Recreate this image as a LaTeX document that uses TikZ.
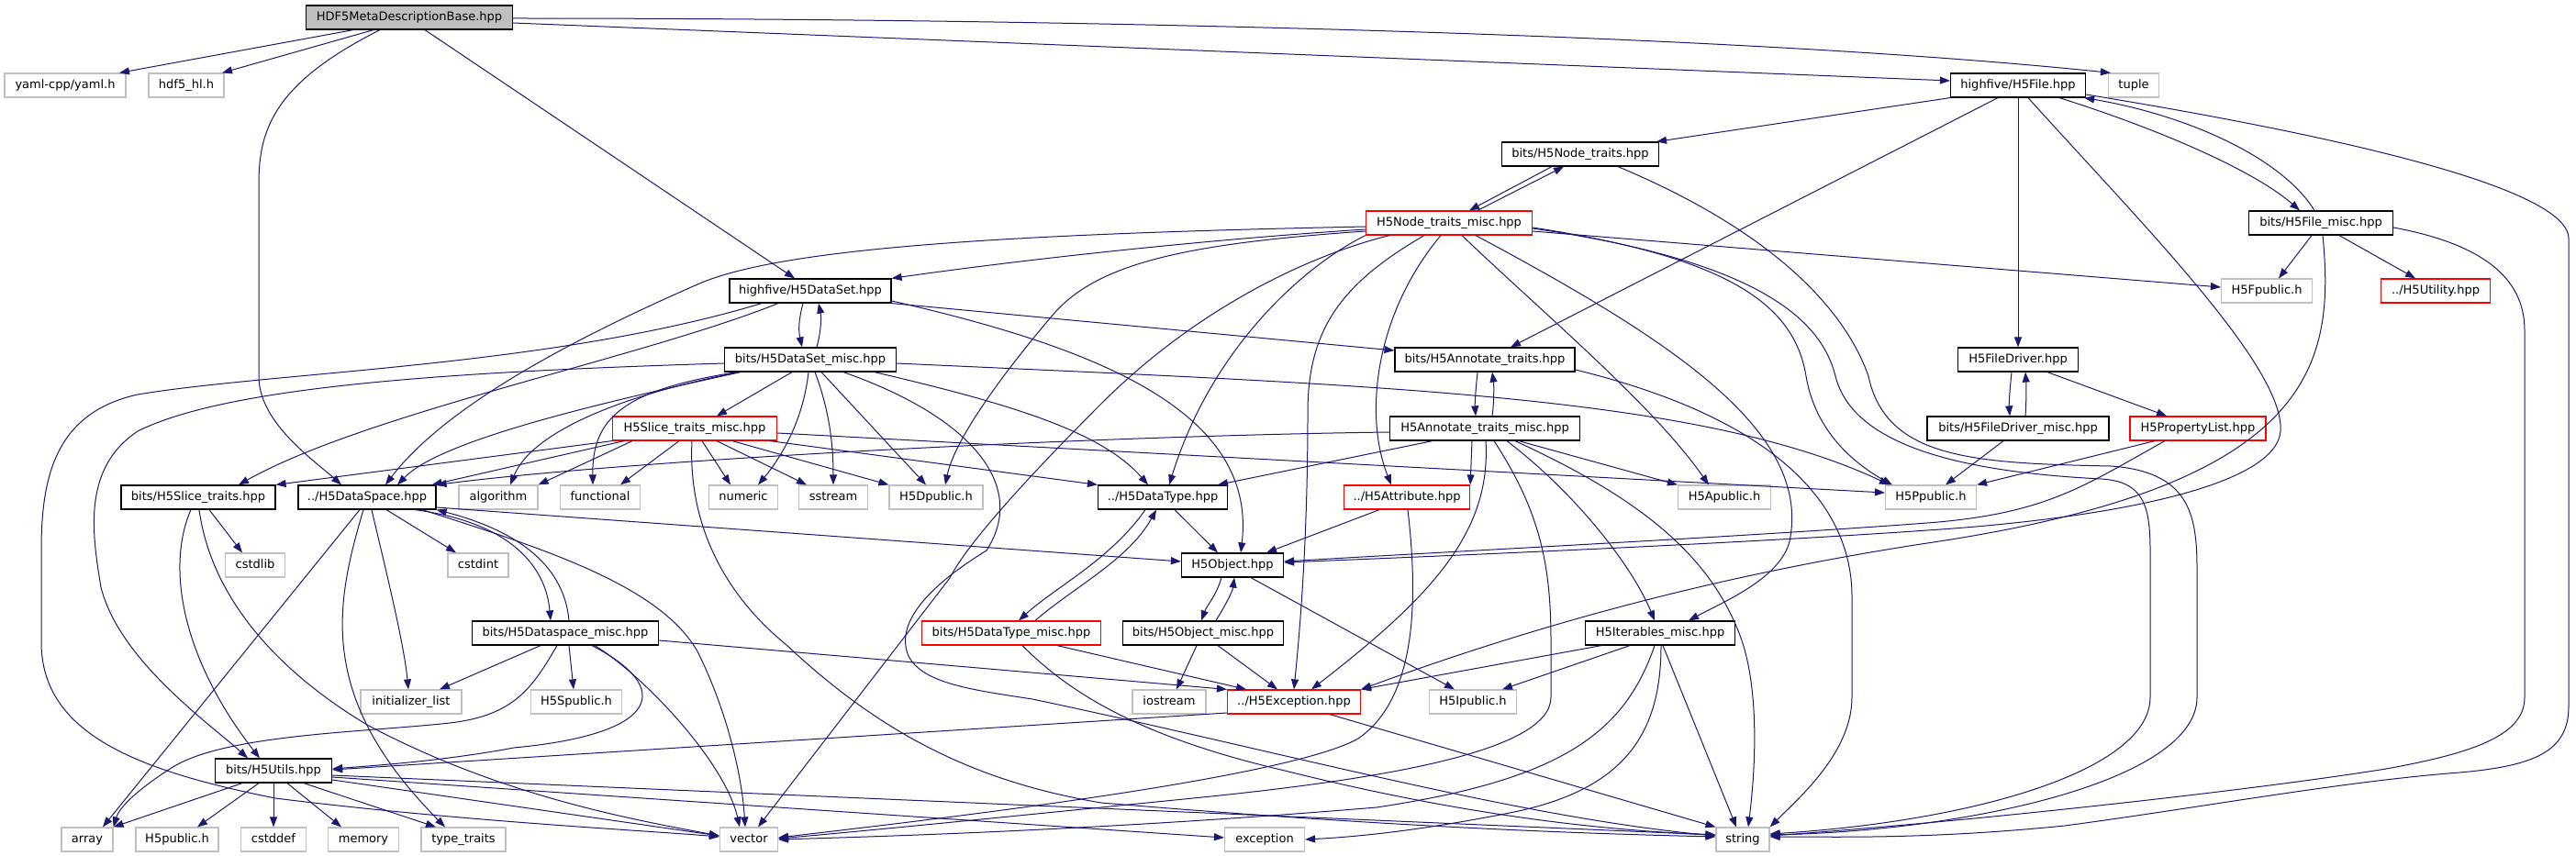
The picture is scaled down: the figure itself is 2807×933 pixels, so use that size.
\documentclass[tikz,border=0pt]{standalone}
\usepackage{fontspec}
\newfontfamily\djv{DejaVu Sans}
\usetikzlibrary{arrows.meta}
\definecolor{edgec}{HTML}{191970}
\definecolor{extc}{HTML}{BFBFBF}
\definecolor{rootc}{HTML}{BFBFBF}
\begin{document}
\begin{tikzpicture}[x=1pt,y=-1pt,
 box/.style={draw=black,line width=1.2pt,fill=white,minimum height=26pt,inner sep=0pt,text height=9.5pt,text depth=2.3pt,font=\djv\fontsize{13pt}{15pt}\selectfont},
 ext/.style={box,draw=extc},
 trunc/.style={box,draw=red},
 rootn/.style={box,fill=rootc},
 conn/.style={draw=edgec,line width=1pt,-{Triangle[length=11pt,width=8pt]}}]
\fill[white] (0,0) rectangle (2807,933);
\useasboundingbox (0,0) rectangle (2807,933);
% ---------- nodes ----------
\node[rootn,minimum width=225pt] (root) at (446,19) {HDF5MetaDescriptionBase.hpp};
\node[ext,minimum width=132pt] (yaml) at (71,93) {yaml-cpp/yaml.h};
\node[ext,minimum width=82pt] (hdfhl) at (203,93) {hdf5\_hl.h};
\node[box,minimum width=147pt] (file) at (2199,93) {highfive/H5File.hpp};
\node[ext,minimum width=55pt] (tuple) at (2325,93) {tuple};
\node[box,minimum width=171pt] (nodetr) at (1722,168) {bits/H5Node\_traits.hpp};
\node[trunc,minimum width=181pt] (ntm) at (1579,243) {H5Node\_traits\_misc.hpp};
\node[box,minimum width=157pt] (filemisc) at (2529,243) {bits/H5File\_misc.hpp};
\node[box,minimum width=176pt] (dataset) at (883,317) {highfive/H5DataSet.hpp};
\node[ext,minimum width=99pt] (fpub) at (2470,317) {H5Fpublic.h};
\node[trunc,minimum width=119pt] (util) at (2654,317) {../H5Utility.hpp};
\node[box,minimum width=187pt] (dsmisc) at (883,392) {bits/H5DataSet\_misc.hpp};
\node[box,minimum width=196pt] (annot) at (1618,392) {bits/H5Annotate\_traits.hpp};
\node[box,minimum width=131pt] (fdriver) at (2199,392) {H5FileDriver.hpp};
\node[trunc,minimum width=179pt] (slicemisc) at (757,467) {H5Slice\_traits\_misc.hpp};
\node[box,minimum width=207pt] (atm) at (1618,467) {H5Annotate\_traits\_misc.hpp};
\node[box,minimum width=198pt] (fdmisc) at (2199,467) {bits/H5FileDriver\_misc.hpp};
\node[trunc,minimum width=148pt] (plist) at (2395,467) {H5PropertyList.hpp};
\node[box,minimum width=168pt] (slicetr) at (216,542) {bits/H5Slice\_traits.hpp};
\node[box,minimum width=150pt] (dspace) at (400,542) {../H5DataSpace.hpp};
\node[ext,minimum width=86pt] (algorithm) at (543,542) {algorithm};
\node[ext,minimum width=87pt] (functional) at (654,542) {functional};
\node[ext,minimum width=75pt] (numeric) at (810,542) {numeric};
\node[ext,minimum width=75pt] (sstream) at (908,542) {sstream};
\node[ext,minimum width=102pt] (dpub) at (1020,542) {H5Dpublic.h};
\node[box,minimum width=141pt] (dtype) at (1267,542) {../H5DataType.hpp};
\node[trunc,minimum width=137pt] (attr) at (1533,542) {../H5Attribute.hpp};
\node[ext,minimum width=101pt] (apub) at (1879,542) {H5Apublic.h};
\node[ext,minimum width=99pt] (ppub) at (2104,542) {H5Ppublic.h};
\node[ext,minimum width=65pt] (cstdlib) at (278,616) {cstdlib};
\node[ext,minimum width=66pt] (cstdint) at (521,616) {cstdint};
\node[box,minimum width=111pt] (object) at (1343,616) {H5Object.hpp};
\node[box,minimum width=203pt] (spmisc) at (616,690) {bits/H5Dataspace\_misc.hpp};
\node[trunc,minimum width=195pt] (dtmisc) at (1102,690) {bits/H5DataType\_misc.hpp};
\node[box,minimum width=175pt] (objmisc) at (1311,690) {bits/H5Object\_misc.hpp};
\node[box,minimum width=163pt] (iter) at (1809,690) {H5Iterables\_misc.hpp};
\node[ext,minimum width=110pt] (initl) at (448,765) {initializer\_list};
\node[ext,minimum width=99pt] (spub) at (628,765) {H5Spublic.h};
\node[ext,minimum width=80pt] (iostream) at (1274,765) {iostream};
\node[trunc,minimum width=145pt] (exc) at (1410,765) {../H5Exception.hpp};
\node[ext,minimum width=95pt] (ipub) at (1605,765) {H5Ipublic.h};
\node[box,minimum width=127pt] (utils) at (298,840) {bits/H5Utils.hpp};
\node[ext,minimum width=56pt] (array) at (95,915) {array};
\node[ext,minimum width=90pt] (h5pub) at (193,915) {H5public.h};
\node[ext,minimum width=71pt] (cstddef) at (298,915) {cstddef};
\node[ext,minimum width=77pt] (memory) at (396,915) {memory};
\node[ext,minimum width=92pt] (typetr) at (505,915) {type\_traits};
\node[ext,minimum width=63pt] (vector) at (816,915) {vector};
\node[ext,minimum width=87pt] (exception) at (1378,915) {exception};
\node[ext,minimum width=58pt] (string) at (1899,915) {string};
% ---------- edges ----------
% root
\draw[conn] ([xshift=-61pt]root.south) -- ([xshift=59pt]yaml.north);
\draw[conn] ([xshift=-39pt]root.south) -- ([xshift=39pt]hdfhl.north);
\draw[conn] ([xshift=-32pt]root.south) .. controls (300,90) and (282,140) .. (282,200) -- (282,410) .. controls (282,460) and (340,500) .. ([xshift=-28pt]dspace.north);
\draw[conn] ([xshift=17pt]root.south) -- ([xshift=-17pt]dataset.north);
\draw[conn] ([yshift=-1pt]root.east) .. controls (1200,20) and (1900,38) .. ([xshift=3pt]tuple.north west);
\draw[conn] ([yshift=-6pt]root.east) -- ([yshift=5pt]file.west);
% H5File
\draw[conn] (file.south west) -- ([xshift=83pt]nodetr.north);
\draw[conn] ([xshift=-22pt]file.south) -- ([xshift=28pt]annot.north);
\draw[conn] (file.south) -- (fdriver.north);
\draw[conn] ([xshift=11pt]file.south) .. controls (2330,240) and (2490,400) .. (2485,470) .. controls (2480,530) and (2300,565) .. (2100,578) .. controls (1900,592) and (1600,605) .. ([yshift=3pt]object.east);
\draw[conn] ([yshift=-10pt]file.east) .. controls (2500,140) and (2799,200) .. (2799,260) -- (2799,770) .. controls (2799,820) and (2760,835) .. (2680,842) .. controls (2550,852) and (2400,880) .. (2250,900) .. controls (2100,915) and (2000,912) .. ([yshift=3pt]string.east);
\draw[conn] ([xshift=45pt]file.south) .. controls (2350,140) and (2455,185) .. ([xshift=-23pt]filemisc.north);
\draw[conn] ([xshift=-7pt]filemisc.north) .. controls (2485,170) and (2380,125) .. ([xshift=-2pt]file.south east);
% H5File_misc
\draw[conn] ([xshift=-10pt]filemisc.south) -- ([xshift=13pt]fpub.north);
\draw[conn] ([xshift=20pt]filemisc.south) -- ([xshift=-22pt]util.north);
\draw[conn] ([yshift=-5pt]filemisc.east) .. controls (2700,265) and (2751,300) .. (2751,360) -- (2751,760) .. controls (2751,800) and (2700,820) .. (2600,838) .. controls (2450,862) and (2150,895) .. ([yshift=4pt]string.east);
\draw[conn] ([xshift=2pt]filemisc.south) .. controls (2545,400) and (2520,530) .. (2100,592) .. controls (1850,630) and (1650,690) .. (exc.north east);
% H5Node_traits
\draw[conn] ([xshift=-31pt]nodetr.south) -- ([xshift=22pt]ntm.north);
\draw[conn] ([xshift=31pt]ntm.north) -- ([xshift=-18pt]nodetr.south);
\draw[conn] ([xshift=41pt]nodetr.south) .. controls (1950,260) and (2015,350) .. (2036,410) .. controls (2055,500) and (2150,505) .. (2300,508) .. controls (2385,514) and (2394,560) .. (2394,620) -- (2394,760) .. controls (2394,850) and (2150,905) .. ([yshift=5pt]string.east);
% H5Node_traits_misc
\draw[conn] ([yshift=-7pt]ntm.west) .. controls (1300,262) and (1100,285) .. (dataset.north east);
\draw[conn] ([yshift=-4pt]ntm.west) .. controls (1100,255) and (850,270) .. (760,310) .. controls (600,380) and (480,450) .. ([xshift=20pt]dspace.north);
\draw[conn] ([yshift=-9pt]ntm.west) .. controls (1300,265) and (1200,285) .. (1150,340) .. controls (1090,410) and (1040,480) .. ([xshift=10pt]dpub.north);
\draw[conn] (ntm.south west) .. controls (1420,290) and (1320,380) .. ([xshift=7pt]dtype.north);
\draw[conn] ([xshift=-65pt]ntm.south) .. controls (1420,280) and (1300,340) .. (1200,440) .. controls (1100,540) and (1050,600) .. (1035,630) -- ([xshift=10pt]vector.north);
\draw[conn] ([xshift=-27pt]ntm.south) .. controls (1460,310) and (1425,360) .. (1425,450) .. controls (1425,600) and (1415,700) .. (exc.north);
\draw[conn] ([xshift=-9pt]ntm.south) .. controls (1500,340) and (1485,450) .. ([xshift=-17pt]attr.north);
\draw[conn] ([xshift=14pt]ntm.south) .. controls (1680,340) and (1800,440) .. ([xshift=-17pt]apub.north);
\draw[conn] ([xshift=29pt]ntm.south) .. controls (1820,370) and (1975,470) .. (1950,590) .. controls (1940,630) and (1880,655) .. ([xshift=31pt]iter.north);
\draw[conn] ([yshift=-5pt]ntm.east) .. controls (1880,280) and (1955,330) .. (1968,410) .. controls (1978,470) and (2020,505) .. ([xshift=8pt]ppub.north west);
\draw[conn] ([yshift=-6pt]ntm.east) .. controls (1920,285) and (1985,350) .. (2000,410) .. controls (2020,490) and (2150,515) .. (2290,522) .. controls (2335,525) and (2343,550) .. (2343,600) -- (2343,760) .. controls (2343,840) and (2150,895) .. ([yshift=6pt]string.east);
\draw[conn] ([yshift=-9pt]ntm.east) -- ([yshift=4pt]fpub.west);
% H5DataSet
\draw[conn] ([xshift=-8pt]dataset.south) .. controls (870,350) and (870,360) .. ([xshift=-9pt]dsmisc.north);
\draw[conn] ([xshift=7pt]dsmisc.north) .. controls (895,360) and (895,345) .. ([xshift=9pt]dataset.south);
\draw[conn] ([xshift=-53pt]dataset.south) .. controls (600,400) and (300,405) .. (150,430) .. controls (60,450) and (45,520) .. (45,600) -- (45,700) .. controls (45,800) and (150,840) .. (300,870) .. controls (500,895) and (700,905) .. ([yshift=3pt]vector.west);
\draw[conn] ([xshift=-35pt]dataset.south) .. controls (700,390) and (400,450) .. ([xshift=44pt]slicetr.north);
\draw[conn] (dataset.south east) -- ([yshift=10pt]annot.west);
\draw[conn] ([yshift=-11pt]dataset.east) .. controls (1200,380) and (1370,450) .. ([xshift=9pt]object.north);
% H5DataSet_misc
\draw[conn] ([xshift=-20pt]dsmisc.south) -- ([xshift=24pt]slicemisc.north);
\draw[conn] ([xshift=-2pt]dsmisc.south) .. controls (875,460) and (850,500) .. ([xshift=16pt]numeric.north);
\draw[conn] ([xshift=5pt]dsmisc.south) .. controls (905,450) and (908,490) .. (sstream.north);
\draw[conn] ([xshift=12pt]dsmisc.south) -- ([xshift=-11pt]dpub.north);
\draw[conn] ([xshift=36pt]dsmisc.south) .. controls (1060,455) and (1120,530) .. (1075,600) .. controls (1010,640) and (975,680) .. (990,715) .. controls (1005,745) and (1060,752) .. (1125,762) .. controls (1400,820) and (1650,890) .. ([yshift=4pt]string.west);
\draw[conn] ([xshift=70pt]dsmisc.south) .. controls (1100,440) and (1200,470) .. ([xshift=-16pt]dtype.north);
\draw[conn] ([yshift=-4pt]dsmisc.east) .. controls (1500,420) and (1850,430) .. ([xshift=5pt]ppub.north west);
\draw[conn] ([yshift=-4pt]dsmisc.west) .. controls (500,405) and (250,420) .. (150,470) .. controls (90,510) and (100,580) .. (110,640) .. controls (130,720) and (230,790) .. ([xshift=-28pt]utils.north);
\draw[conn] ([xshift=-76pt]dsmisc.south) .. controls (650,440) and (480,480) .. ([xshift=33pt]dspace.north);
\draw[conn] ([xshift=-78pt]dsmisc.south) .. controls (680,430) and (580,470) .. ([xshift=13pt]algorithm.north);
\draw[conn] ([xshift=-80pt]dsmisc.south) .. controls (680,425) and (645,455) .. ([xshift=-8pt]functional.north);
% H5Slice_traits_misc
\draw[conn] (slicemisc.south west) -- (slicetr.north east);
\draw[conn] ([xshift=-77pt]slicemisc.south) -- ([xshift=-5pt]dspace.north east);
\draw[conn] ([xshift=-68pt]slicemisc.south) -- (algorithm.north east);
\draw[conn] ([xshift=-17pt]slicemisc.south) -- ([xshift=22pt]functional.north);
\draw[conn] ([xshift=8pt]slicemisc.south) -- ([xshift=-14pt]numeric.north);
\draw[conn] ([xshift=24pt]slicemisc.south) -- ([xshift=-29pt]sstream.north);
\draw[conn] ([xshift=41pt]slicemisc.south) -- (dpub.north west);
\draw[conn] ([xshift=82pt]slicemisc.south) -- (dtype.north west);
\draw[conn] ([yshift=-5pt]slicemisc.east) -- ([yshift=5pt]ppub.west);
\draw[conn] ([xshift=-3pt]slicemisc.south) .. controls (750,560) and (780,640) .. (857,703) .. controls (950,790) and (1050,850) .. (1200,875) .. controls (1500,900) and (1700,908) .. ([yshift=3pt]string.west);
% H5Slice_traits
\draw[conn] ([xshift=-8pt]slicetr.south) .. controls (180,620) and (200,720) .. ([xshift=-15pt]utils.north);
\draw[conn] ([xshift=1pt]slicetr.south) .. controls (230,650) and (300,730) .. (400,790) .. controls (550,870) and (700,895) .. ([yshift=4pt]vector.west);
\draw[conn] ([xshift=12pt]slicetr.south) -- ([xshift=-14pt]cstdlib.north);
% H5DataSpace
\draw[conn] ([xshift=-8pt]dspace.south) -- ([xshift=17pt]array.north);
\draw[conn] ([xshift=-4pt]dspace.south) .. controls (365,660) and (345,760) .. ([xshift=-20pt]typetr.north);
\draw[conn] ([xshift=5pt]dspace.south) .. controls (420,620) and (440,700) .. ([xshift=-3pt]initl.north);
\draw[conn] ([xshift=21pt]dspace.south) -- ([xshift=-24pt]cstdint.north);
\draw[conn] ([xshift=52pt]dspace.south) .. controls (560,570) and (595,620) .. ([xshift=-16pt]spmisc.north);
\draw[conn] ([xshift=4pt]spmisc.north) .. controls (615,620) and (570,580) .. (dspace.south east);
\draw[conn] ([xshift=60pt]dspace.south) .. controls (600,600) and (720,640) .. (760,710) .. controls (790,770) and (808,840) .. ([xshift=-4pt]vector.north);
\draw[conn] ([yshift=-11pt]dspace.east) -- ([yshift=4pt]object.west);
% H5Dataspace_misc
\draw[conn] ([xshift=-27pt]spmisc.south) -- ([xshift=31pt]initl.north);
\draw[conn] ([xshift=4pt]spmisc.south) -- ([xshift=-3pt]spub.north);
\draw[conn] ([xshift=-9pt]spmisc.south) .. controls (580,750) and (560,780) .. (490,788) .. controls (400,798) and (250,800) .. (190,835) .. controls (150,860) and (130,880) .. (array.north east);
\draw[conn] ([xshift=29pt]spmisc.south) .. controls (735,750) and (720,800) .. (560,815) .. controls (480,830) and (400,835) .. ([yshift=2pt]utils.east);
\draw[conn] ([xshift=32pt]spmisc.south) .. controls (700,735) and (790,830) .. ([xshift=-10pt]vector.north);
\draw[conn] ([yshift=-8pt]spmisc.east) -- (exc.north west);
% H5Attribute
\draw[conn] ([xshift=-30pt]attr.south) -- ([xshift=37pt]object.north);
\draw[conn] ([xshift=1pt]attr.south) .. controls (1545,650) and (1545,760) .. (1480,805) .. controls (1400,850) and (1000,895) .. ([yshift=2pt]vector.east);
% H5Annotate_traits
\draw[conn] ([xshift=-8pt]annot.south) .. controls (1608,425) and (1607,440) .. ([xshift=-10pt]atm.north);
\draw[conn] ([xshift=8pt]atm.north) .. controls (1628,440) and (1628,420) .. ([xshift=8pt]annot.south);
\draw[conn] ([yshift=-11pt]annot.east) .. controls (1950,460) and (2018,560) .. (2018,650) -- (2018,760) .. controls (2018,820) and (1960,870) .. (string.north east);
% H5Annotate_traits_misc
\draw[conn] ([yshift=-4pt]atm.west) .. controls (1200,475) and (700,500) .. (dspace.north east);
\draw[conn] ([xshift=-57pt]atm.south) -- ([xshift=60pt]dtype.north);
\draw[conn] ([xshift=-14pt]atm.south) -- (attr.north east);
\draw[conn] ([xshift=1pt]atm.south) .. controls (1625,580) and (1560,650) .. ([xshift=19pt]exc.north);
\draw[conn] ([xshift=10pt]atm.south) .. controls (1680,560) and (1690,620) .. (1690,700) -- (1690,760) .. controls (1690,820) and (1500,850) .. (1300,870) .. controls (1100,890) and (950,905) .. ([yshift=1pt]vector.east);
\draw[conn] ([xshift=24pt]atm.south) .. controls (1720,540) and (1780,620) .. ([xshift=-6pt]iter.north);
\draw[conn] ([xshift=33pt]atm.south) .. controls (1780,540) and (1860,600) .. (1895,690) .. controls (1915,740) and (1915,820) .. ([xshift=6pt]string.north);
\draw[conn] ([xshift=37pt]atm.south) -- (apub.north west);
% H5DataType
\draw[conn] ([xshift=13pt]dtype.south) -- ([xshift=-16pt]object.north);
\draw[conn] ([xshift=-19pt]dtype.south) .. controls (1210,610) and (1150,640) .. ([xshift=8pt]dtmisc.north);
\draw[conn] ([xshift=26pt]dtmisc.north) .. controls (1170,640) and (1230,610) .. ([xshift=-7pt]dtype.south);
\draw[conn] ([xshift=50pt]dtmisc.south) -- ([xshift=-52pt]exc.north);
\draw[conn] ([xshift=12pt]dtmisc.south) .. controls (1170,760) and (1250,805) .. (1400,840) .. controls (1600,890) and (1750,905) .. ([yshift=5pt]string.west);
% H5Object
\draw[conn] ([xshift=-12pt]object.south) .. controls (1325,650) and (1315,660) .. ([xshift=-2pt]objmisc.north);
\draw[conn] ([xshift=14pt]objmisc.north) .. controls (1335,660) and (1343,645) .. ([xshift=2pt]object.south);
\draw[conn] ([xshift=20pt]object.south) -- ([xshift=-20pt]ipub.north);
\draw[conn] ([xshift=-7pt]objmisc.south) -- ([xshift=8pt]iostream.north);
\draw[conn] ([xshift=16pt]objmisc.south) -- ([xshift=-18pt]exc.north);
% H5Exception
\draw[conn] ([yshift=-12pt]exc.west) -- ([yshift=1pt]utils.east);
\draw[conn] ([xshift=39pt]exc.south) -- (string.north west);
% H5Iterables_misc
\draw[conn] ([xshift=-64pt]iter.south) -- (exc.north east);
\draw[conn] ([xshift=-33pt]iter.south) -- ([xshift=32pt]ipub.north);
\draw[conn] ([xshift=3pt]iter.south) -- ([xshift=-7pt]string.north);
\draw[conn] ([xshift=-6pt]iter.south) .. controls (1770,800) and (1700,850) .. (1500,880) .. controls (1200,905) and (950,912) .. (vector.east);
\draw[conn] ([xshift=1pt]iter.south) .. controls (1810,800) and (1770,860) .. (1650,885) .. controls (1550,905) and (1480,912) .. (exception.east);
% H5Utils
\draw[conn] ([xshift=-34pt]utils.south) -- (array.north east);
\draw[conn] ([xshift=-16pt]utils.south) -- ([xshift=22pt]h5pub.north);
\draw[conn] (utils.south) -- (cstddef.north);
\draw[conn] ([xshift=15pt]utils.south) -- ([xshift=-24pt]memory.north);
\draw[conn] ([xshift=33pt]utils.south) -- ([xshift=-30pt]typetr.north);
\draw[conn] ([yshift=-5pt]utils.east) -- ([yshift=5pt]string.west);
\draw[conn] ([yshift=-7pt]utils.east) -- ([yshift=2pt]exception.west);
\draw[conn] ([yshift=-10pt]utils.east) -- ([yshift=4pt]vector.west);
% H5FileDriver
\draw[conn] ([xshift=-7pt]fdriver.south) .. controls (2190,425) and (2189,440) .. ([xshift=-9pt]fdmisc.north);
\draw[conn] ([xshift=8pt]fdmisc.north) .. controls (2208,440) and (2208,420) .. ([xshift=8pt]fdriver.south);
\draw[conn] ([xshift=32pt]fdriver.south) -- ([xshift=-34pt]plist.north);
\draw[conn] ([xshift=-16pt]fdmisc.south) -- ([xshift=16pt]ppub.north);
\draw[conn] ([xshift=-47pt]plist.south) -- (ppub.north east);
\draw[conn] ([xshift=-36pt]plist.south) .. controls (2270,530) and (2230,560) .. (2100,570) .. controls (1900,585) and (1600,600) .. ([yshift=4pt]object.east);
\end{tikzpicture}
\end{document}
